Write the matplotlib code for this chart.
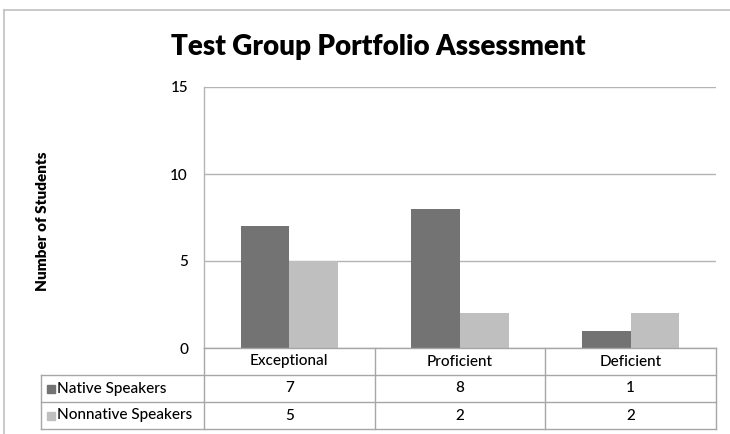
import matplotlib
matplotlib.use("Agg")
import matplotlib.pyplot as plt
from matplotlib.lines import Line2D
from matplotlib.patches import Rectangle

plt.rcParams['font.family'] = ['Lato', 'DejaVu Sans']

categories = ["Exceptional", "Proficient", "Deficient"]
series_names = ["Native Speakers", "Nonnative Speakers"]
native = [7, 8, 1]
nonnative = [5, 2, 2]
y_ticks = [0, 5, 10, 15]

colors = ['#737373', '#bfbfbf']
grid_color = '#b3b3b3'
txt_w = 'medium'
fs = 11

W, H = 730, 434
fig = plt.figure(figsize=(W / 100, H / 100), dpi=100)

# axes box in pixel units of the reference
left, right, top, bottom = 204, 716, 87, 348
ax = fig.add_axes([left / W, 1 - bottom / H, (right - left) / W, (bottom - top) / H])

x = list(range(len(categories)))
bw = 0.285
ax.bar([i - bw / 2 for i in x], native, width=bw, color=colors[0], zorder=2)
ax.bar([i + bw / 2 for i in x], nonnative, width=bw, color=colors[1], zorder=2)

ax.set_xlim(-0.5, len(categories) - 0.5)
ax.set_ylim(0, 15)
ax.set_yticks(y_ticks)
ax.set_yticklabels([str(t) for t in y_ticks], fontsize=fs, fontweight=txt_w)
ax.tick_params(axis='y', length=0, pad=11.5)
ax.set_xticks([])
ax.grid(axis='y', color=grid_color, linewidth=1, zorder=0)
for s in ['top', 'right', 'bottom']:
    ax.spines[s].set_visible(False)
ax.spines['left'].set_color(grid_color)
ax.spines['left'].set_linewidth(1)

# title and y label
fig.text(378 / W, 1 - 47 / H, "Test Group Portfolio Assessment",
         ha='center', va='center', fontsize=20, fontweight='heavy')
fig.text(43 / W, 1 - 221 / H, "Number of Students", rotation=90,
         ha='center', va='center', fontsize=11, fontweight='heavy')

# outer frame (top and left edges)
frame_c = '#c0c0c0'
fig.add_artist(Line2D([4 / W, 1], [1 - 10 / H, 1 - 10 / H], color=frame_c, lw=1.2,
                      transform=fig.transFigure))
fig.add_artist(Line2D([4 / W, 4 / W], [1 - 10 / H, 0], color=frame_c, lw=1.2,
                      transform=fig.transFigure))

# data table under the axes
row_h = 27
tab_left = 41
tc = '#a6a6a6'
tr = fig.transFigure
col_w = (right - left) / len(categories)

def fx(px):
    return px / W

def fy(py):
    return 1 - py / H

rows_y = [bottom + k * row_h for k in range(4)]
# horizontal lines
fig.add_artist(Line2D([fx(left), fx(right)], [fy(rows_y[0])] * 2, color=tc, lw=1, transform=tr))
for yy in rows_y[1:]:
    fig.add_artist(Line2D([fx(tab_left), fx(right)], [fy(yy)] * 2, color=tc, lw=1, transform=tr))
# vertical lines
for k in range(len(categories) + 1):
    xx = left + k * col_w
    fig.add_artist(Line2D([fx(xx)] * 2, [fy(rows_y[0]), fy(rows_y[-1])], color=tc, lw=1, transform=tr))
fig.add_artist(Line2D([fx(tab_left)] * 2, [fy(rows_y[1]), fy(rows_y[-1])], color=tc, lw=1, transform=tr))

# header labels
for k, cat in enumerate(categories):
    fig.text(fx(left + (k + 0.5) * col_w), fy(rows_y[0] + row_h / 2), cat,
             ha='center', va='center', fontsize=fs, fontweight=txt_w)

# rows
for r, (name, vals) in enumerate(zip(series_names, [native, nonnative])):
    yc = rows_y[r + 1] + row_h / 2
    fig.add_artist(Rectangle((fx(47), fy(yc + 4)), 8 / W, 8 / H, color=colors[r], transform=tr))
    fig.text(fx(57), fy(yc), name, ha='left', va='center', fontsize=fs, fontweight=txt_w)
    for k, v in enumerate(vals):
        fig.text(fx(left + (k + 0.5) * col_w), fy(yc), str(v),
                 ha='center', va='center', fontsize=fs, fontweight=txt_w)

fig.savefig("out.png", dpi=100)
